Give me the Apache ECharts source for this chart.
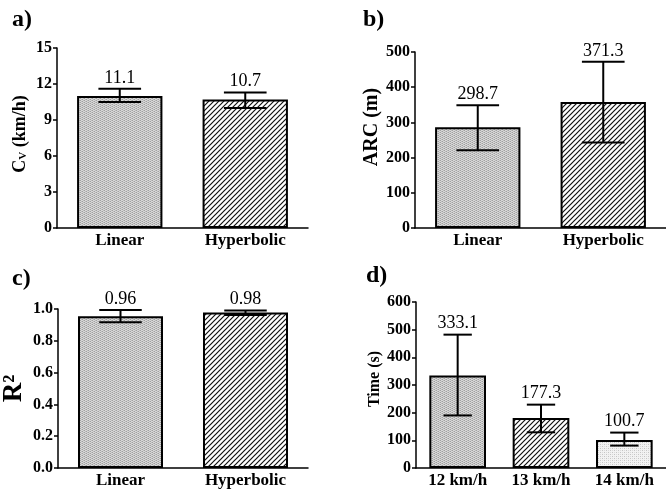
<!DOCTYPE html>
<html>
<head>
<meta charset="utf-8">
<script src="https://cdn.jsdelivr.net/npm/echarts@6/dist/echarts.min.js"></script>
<style>html,body{margin:0;padding:0;background:#fff}#chart{width:666px;height:493px}</style>
</head>
<body>
<div id="chart"></div>
<script>
// ---- data ----
var methodCats = ['Linear', 'Hyperbolic'];
var speedCats = ['12 km/h', '13 km/h', '14 km/h'];

var cvMean = [11.0, 10.7];
var cvLow = [10.5, 10.0];
var cvHigh = [11.6, 11.3];
var cvLabels = ['11.1', '10.7'];

var arcMean = [286, 358];
var arcLow = [221, 243];
var arcHigh = [349, 472];
var arcLabels = ['298.7', '371.3'];

var r2Mean = [0.955, 0.978];
var r2Low = [0.917, 0.962];
var r2High = [0.994, 0.99];
var r2Labels = ['0.96', '0.98'];

var timeMean = [334, 181, 101];
var timeLow = [190, 129, 81];
var timeHigh = [482, 229, 128];
var timeLabels = ['333.1', '177.3', '100.7'];

var cvTicks = {min: 0, max: 15, interval: 3};
var arcTicks = {min: 0, max: 500, interval: 100};
var r2Ticks = {min: 0, max: 1, interval: 0.2};
var timeTicks = {min: 0, max: 600, interval: 100};

// ---- patterns ----
var SERIF = '"Liberation Serif", "Times New Roman", serif';
function mk(w, h, fn) { var c = document.createElement('canvas'); c.width = w; c.height = h; fn(c.getContext('2d')); return c; }
var stippleDark = mk(4, 4, function (g) {
  g.fillStyle = '#d8d8d8'; g.fillRect(0, 0, 4, 4);
  g.fillStyle = '#a0a0a0';
  g.fillRect(0, 0, 1, 1); g.fillRect(2, 1, 1, 1); g.fillRect(0, 2, 1, 1); g.fillRect(2, 3, 1, 1);
  g.fillStyle = '#bcbcbc';
  g.fillRect(1, 1, 1, 1); g.fillRect(3, 0, 1, 1); g.fillRect(1, 3, 1, 1); g.fillRect(3, 2, 1, 1);
});
var stippleLight = mk(4, 4, function (g) {
  g.fillStyle = '#f2f2f2'; g.fillRect(0, 0, 4, 4);
  g.fillStyle = '#c4c4c4';
  g.fillRect(0, 0, 1, 1); g.fillRect(2, 2, 1, 1);
  g.fillStyle = '#dadada';
  g.fillRect(2, 0, 1, 1); g.fillRect(0, 2, 1, 1);
});
var hatch = mk(5, 5, function (g) {
  g.fillStyle = '#fff'; g.fillRect(0, 0, 5, 5);
  g.strokeStyle = '#111'; g.lineWidth = 1.2;
  g.beginPath();
  g.moveTo(-1, 6); g.lineTo(6, -1);
  g.moveTo(-1, 1); g.lineTo(1, -1);
  g.moveTo(4, 6); g.lineTo(6, 4);
  g.stroke();
});
var pDark = {image: stippleDark, repeat: 'repeat'};
var pHatch = {image: hatch, repeat: 'repeat'};
var pLight = {image: stippleLight, repeat: 'repeat'};

// ---- helpers ----
function xAxisFor(idx, cats) {
  return {
    type: 'category', gridIndex: idx, data: cats,
    axisLine: {lineStyle: {color: '#000', width: 1.5}},
    axisTick: {alignWithLabel: true, length: 3, lineStyle: {color: '#000', width: 1.5}},
    axisLabel: {color: '#000', fontFamily: SERIF, fontWeight: 'bold', fontSize: 17, margin: 4}
  };
}
function yAxisFor(idx, t, name, nameGap, nameStyle, fmt) {
  return {
    type: 'value', gridIndex: idx, min: t.min, max: t.max, interval: t.interval,
    name: name, nameLocation: 'middle', nameGap: nameGap, nameRotate: 90,
    nameTextStyle: nameStyle,
    splitLine: {show: false},
    axisLine: {show: true, lineStyle: {color: '#000', width: 1.5}},
    axisTick: {show: true, length: 4, lineStyle: {color: '#000', width: 1.5}},
    axisLabel: {color: '#000', fontFamily: SERIF, fontWeight: 'bold', fontSize: 16, margin: 5, formatter: fmt}
  };
}
function barSeries(idx, vals, fills) {
  return {
    type: 'bar', xAxisIndex: idx, yAxisIndex: idx, barWidth: '68%',
    data: vals.map(function (v, i) { return {value: v, itemStyle: {color: fills[i]}}; }),
    itemStyle: {borderColor: '#000', borderWidth: 2},
    silent: true, animation: false
  };
}
function errSeries(idx, low, high, labels) {
  return {
    type: 'custom', xAxisIndex: idx, yAxisIndex: idx, z: 10, clip: false, animation: false, silent: true,
    data: low.map(function (l, i) { return [i, l, high[i]]; }),
    renderItem: function (params, api) {
      var x = api.value(0);
      var top = api.coord([x, api.value(2)]);
      var bot = api.coord([x, api.value(1)]);
      var half = api.size([1, 0])[0] * 0.68 * 0.25;
      var st = {stroke: '#000', lineWidth: 2};
      return {
        type: 'group',
        children: [
          {type: 'line', shape: {x1: top[0], y1: top[1], x2: bot[0], y2: bot[1]}, style: st},
          {type: 'line', shape: {x1: top[0] - half, y1: top[1], x2: top[0] + half, y2: top[1]}, style: st},
          {type: 'line', shape: {x1: bot[0] - half, y1: bot[1], x2: bot[0] + half, y2: bot[1]}, style: st},
          {type: 'text', x: top[0], y: top[1] - 2,
            style: {text: labels[params.dataIndex], fill: '#000', font: 'normal 18px ' + SERIF, textAlign: 'center', textVerticalAlign: 'bottom'}}
        ]
      };
    }
  };
}

var titleStyle = {fontFamily: SERIF, fontWeight: 'bold', fontSize: 24, color: '#000'};
var nameStyle = function (sz, pad) { return {fontFamily: SERIF, fontWeight: 'bold', fontSize: sz, color: '#000', padding: pad || 0}; };
var cvNameStyle = {
  fontFamily: SERIF, fontWeight: 'bold', fontSize: 18, color: '#000', padding: [0, 0, 0, 8],
  rich: {
    c: {fontFamily: SERIF, fontWeight: 'bold', fontSize: 18, color: '#000'},
    s: {fontFamily: SERIF, fontWeight: 'bold', fontSize: 11, color: '#000', verticalAlign: 'bottom', padding: [6, 0, 0, 0]}
  }
};

var option = {
  backgroundColor: '#fff',
  animation: false,
  title: [
    {text: 'a)', left: 7, top: 3, textStyle: titleStyle},
    {text: 'b)', left: 358, top: 3, textStyle: titleStyle},
    {text: 'c)', left: 7, top: 262, textStyle: titleStyle},
    {text: 'd)', left: 361, top: 259, textStyle: titleStyle}
  ],
  grid: [
    {left: 57, top: 48, width: 251, height: 180},
    {left: 415, top: 52, width: 251, height: 176},
    {left: 57, top: 309, width: 251, height: 159},
    {left: 416, top: 302, width: 255, height: 166}
  ],
  xAxis: [
    xAxisFor(0, methodCats), xAxisFor(1, methodCats), xAxisFor(2, methodCats), xAxisFor(3, speedCats)
  ],
  yAxis: [
    yAxisFor(0, cvTicks, '{c|C}{s|V}{c| (km/h)}', 28, cvNameStyle),
    yAxisFor(1, arcTicks, 'ARC (m)', 32, nameStyle(20, [0, 0, 0, 26])),
    yAxisFor(2, r2Ticks, 'R²', 30, nameStyle(27), function (v) { return v.toFixed(1); }),
    yAxisFor(3, timeTicks, 'Time (s)', 33, nameStyle(16, [0, 0, 0, 12]))
  ],
  series: [
    barSeries(0, cvMean, [pDark, pHatch]),
    errSeries(0, cvLow, cvHigh, cvLabels),
    barSeries(1, arcMean, [pDark, pHatch]),
    errSeries(1, arcLow, arcHigh, arcLabels),
    barSeries(2, r2Mean, [pDark, pHatch]),
    errSeries(2, r2Low, r2High, r2Labels),
    barSeries(3, timeMean, [pDark, pHatch, pLight]),
    errSeries(3, timeLow, timeHigh, timeLabels)
  ]
};
var chart = echarts.init(document.getElementById('chart'), null, {renderer: 'canvas'});
chart.setOption(option);
</script>
</body>
</html>
